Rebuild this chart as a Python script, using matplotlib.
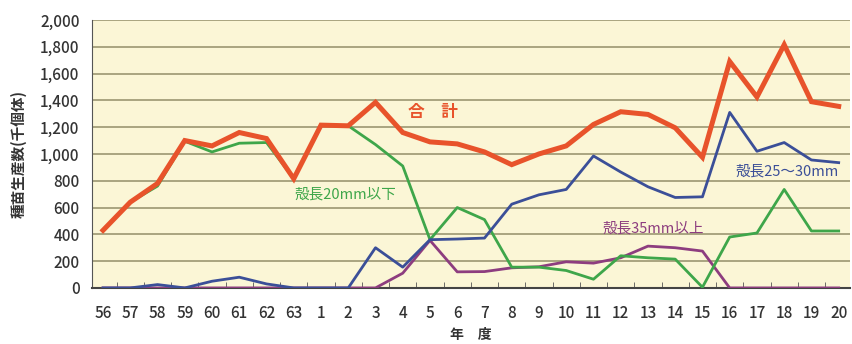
import matplotlib
matplotlib.use("Agg")
import matplotlib.pyplot as plt
import numpy as np

plt.rcParams['font.family'] = ['Noto Sans CJK JP', 'DejaVu Sans']

years = ['56', '57', '58', '59', '60', '61', '62', '63', '1', '2', '3', '4', '5', '6',
         '7', '8', '9', '10', '11', '12', '13', '14', '15', '16', '17', '18', '19', '20']
total = [430, 640, 780, 1100, 1060, 1160, 1115, 815, 1215, 1210, 1385, 1160, 1090, 1075,
         1015, 920, 1000, 1060, 1220, 1315, 1295, 1195, 975, 1690, 1425, 1815, 1390, 1355]
size_20_under = [430, 640, 760, 1095, 1015, 1080, 1085, 815, 1215, 1210, 1070, 910, 360, 600,
                 510, 155, 155, 130, 65, 240, 225, 215, 5, 380, 410, 735, 425, 425]
size_25_30 = [0, 0, 25, 0, 50, 80, 30, 0, 0, 0, 300, 155, 360, 365,
              372, 625, 695, 735, 985, 865, 755, 675, 680, 1310, 1020, 1085, 955, 935]
size_35_over = [0, 0, 0, 0, 0, 0, 0, 0, 0, 0, 0, 110, 355, 120,
                122, 150, 158, 195, 185, 225, 312, 300, 275, 0, 0, 0, 0, 0]

red = '#e8532b'
green = '#3ea64a'
blue = '#3b4f98'
purple = '#8d3d7f'

fig = plt.figure(figsize=(8.53, 3.44), dpi=100)
ax = fig.add_axes([0.108, 0.163, 0.888, 0.779])
ax.set_facecolor('#fbf6d6')

x = np.arange(len(years))
ax.plot(x, size_35_over, color=purple, lw=2.0, zorder=3)
ax.plot(x, size_25_30, color=blue, lw=2.0, zorder=4)
ax.plot(x, size_20_under, color=green, lw=2.0, zorder=3)
ax.plot(x, total, color=red, lw=3.6, zorder=5, solid_joinstyle='miter')

ax.set_ylim(0, 2000)
ax.set_xlim(-0.4, 27.4)
ax.set_yticks(np.arange(0, 2001, 200))
ax.set_yticklabels([f'{v:,}' for v in range(0, 2001, 200)], fontsize=11,
                   color='#333333', fontweight='medium')
ax.set_xticks(x)
ax.set_xticklabels(years, fontsize=11, color='#333333', fontweight='medium')
ax.set_xticks(np.arange(0.5, len(years) - 1, 1), minor=True)
ax.tick_params(axis='x', which='major', length=0, pad=12)
ax.tick_params(axis='x', which='minor', direction='in', length=4, color='#555555')
ax.tick_params(axis='y', length=0, pad=9)

ax.grid(axis='y', color='#9c9672', lw=1.2, zorder=1)
ax.set_axisbelow(True)
for s in ['top', 'right']:
    ax.spines[s].set_visible(False)
ax.spines['left'].set_color('#555555')
ax.spines['bottom'].set_color('#444444')
ax.spines['bottom'].set_linewidth(1.5)

ax.set_ylabel('種苗生産数(千個体)', fontsize=10.5, color='#333333', labelpad=10,
              fontweight='bold')
ax.set_xlabel('年　度', fontsize=10, color='#333333', labelpad=4.5, fontweight='bold')

ax.text(12.1, 1310, '合　計', color=red, fontsize=12, fontweight='bold', ha='center', va='center')
ax.text(8.9, 700, '殻長20mm以下', color=green, fontsize=10.5, ha='center', va='center')
ax.text(25.1, 870, '殻長25～30mm', color=blue, fontsize=10.5, ha='center', va='center')
ax.text(20.2, 440, '殻長35mm以上', color=purple, fontsize=10.5, ha='center', va='center')

fig.savefig('out.png', dpi=100)
